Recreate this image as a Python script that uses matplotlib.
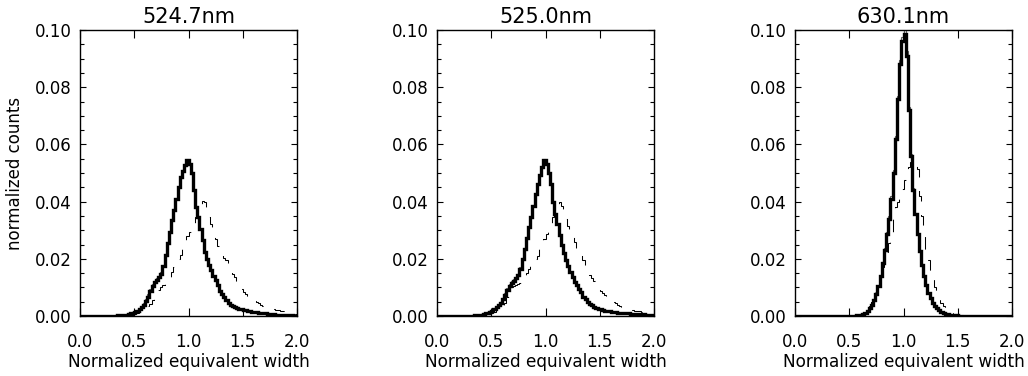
import numpy as np
import matplotlib
matplotlib.use("Agg")
import matplotlib.pyplot as plt
from matplotlib.ticker import MultipleLocator

plt.rcParams['font.family'] = ['DejaVu Sans']

# ---------------- data ----------------
titles = ["524.7nm", "525.0nm", "630.1nm"]
xticks = [0.0, 0.5, 1.0, 1.5, 2.0]
xticklabels = ["0.0", "0.5", "1.0", "1.5", "2.0"]
yticks = [0.00, 0.02, 0.04, 0.06, 0.08, 0.10]
yticklabels = ["0.00", "0.02", "0.04", "0.06", "0.08", "0.10"]
bin_start, bin_width = 0.0, 0.02   # histogram bins (10 values per row below)

# 524.7 nm
thick_5247 = [
    0, 0, 0, 0, 0, 0, 0, 0, 0, 0,
    0, 0, 0, 0, 0, 0.0001, 0.0001, 0.0002, 0.0002, 0.0003,
    0.0004, 0.0005, 0.0007, 0.0009, 0.0012, 0.0015, 0.0019, 0.0024, 0.0030, 0.0038,
    0.0052, 0.0068, 0.0086, 0.0105, 0.0118, 0.0126, 0.0135, 0.0148, 0.0175, 0.0215,
    0.0255, 0.0295, 0.0335, 0.0372, 0.0410, 0.0450, 0.0485, 0.0508, 0.0528, 0.0545,
    0.0530, 0.0500, 0.0440, 0.0380, 0.0345, 0.0305, 0.0265, 0.0225, 0.0198, 0.0180,
    0.0160, 0.0140, 0.0125, 0.0108, 0.0088, 0.0076, 0.0066, 0.0056, 0.0046, 0.0040,
    0.0035, 0.0031, 0.0028, 0.0026, 0.0024, 0.0022, 0.0020, 0.0018, 0.0017, 0.0015,
    0.0014, 0.0013, 0.0012, 0.0011, 0.0010, 0.0009, 0.0008, 0.0008, 0.0007, 0.0006,
    0.0005, 0.0005, 0.0004, 0.0003, 0.0003, 0.0002, 0.0002, 0.0002, 0.0001, 0.0001]
thin_5247 = [
    0, 0, 0, 0, 0, 0, 0, 0, 0, 0,
    0, 0, 0, 0, 0, 0.0001, 0.0001, 0.0002, 0.0002, 0.0003,
    0.0004, 0.0005, 0.0007, 0.0010, 0.0013, 0.0017, 0.0021, 0.0027, 0.0034, 0.0045,
    0.0060, 0.0078, 0.0096, 0.0112, 0.0124, 0.0132, 0.0140, 0.0155, 0.0180, 0.0218,
    0.0258, 0.0298, 0.0337, 0.0374, 0.0412, 0.0452, 0.0487, 0.0510, 0.0530, 0.0550,
    0.0528, 0.0498, 0.0438, 0.0378, 0.0343, 0.0303, 0.0263, 0.0224, 0.0197, 0.0179,
    0.0160, 0.0140, 0.0125, 0.0108, 0.0088, 0.0076, 0.0066, 0.0056, 0.0046, 0.0040,
    0.0035, 0.0031, 0.0028, 0.0026, 0.0024, 0.0022, 0.0020, 0.0018, 0.0017, 0.0015,
    0.0014, 0.0013, 0.0012, 0.0011, 0.0010, 0.0009, 0.0008, 0.0008, 0.0007, 0.0006,
    0.0005, 0.0005, 0.0004, 0.0003, 0.0003, 0.0002, 0.0002, 0.0002, 0.0001, 0.0001]
dash_5247 = [
    0, 0, 0, 0, 0, 0, 0, 0, 0, 0,
    0, 0, 0, 0, 0, 0, 0, 0, 0.0001, 0.0001,
    0.0001, 0.0002, 0.0002, 0.0003, 0.0004, 0.0006, 0.0009, 0.0013, 0.0018, 0.0024,
    0.0030, 0.0036, 0.0042, 0.0055, 0.0072, 0.0082, 0.0092, 0.0100, 0.0108, 0.0114,
    0.0120, 0.0135, 0.0155, 0.0170, 0.0185, 0.0200, 0.0215, 0.0245, 0.0262, 0.0280,
    0.0295, 0.0310, 0.0325, 0.0345, 0.0370, 0.0392, 0.0402, 0.0398, 0.0375, 0.0345,
    0.0320, 0.0295, 0.0270, 0.0245, 0.0222, 0.0212, 0.0203, 0.0195, 0.0180, 0.0165,
    0.0148, 0.0135, 0.0120, 0.0105, 0.0095, 0.0085, 0.0077, 0.0070, 0.0064, 0.0058,
    0.0053, 0.0048, 0.0044, 0.0040, 0.0036, 0.0033, 0.0030, 0.0027, 0.0025, 0.0023,
    0.0022, 0.0020, 0.0018, 0.0017, 0.0015, 0.0014, 0.0012, 0.0010, 0.0008, 0.0006]

# 525.0 nm
thick_5250 = [
    0, 0, 0, 0, 0, 0, 0, 0, 0, 0,
    0, 0, 0, 0, 0, 0.0001, 0.0001, 0.0002, 0.0003, 0.0004,
    0.0005, 0.0007, 0.0009, 0.0012, 0.0015, 0.0019, 0.0024, 0.0030, 0.0037, 0.0045,
    0.0058, 0.0072, 0.0090, 0.0106, 0.0116, 0.0124, 0.0132, 0.0142, 0.0165, 0.0200,
    0.0235, 0.0272, 0.0310, 0.0345, 0.0385, 0.0425, 0.0460, 0.0492, 0.0520, 0.0545,
    0.0532, 0.0500, 0.0460, 0.0400, 0.0355, 0.0320, 0.0282, 0.0250, 0.0222, 0.0195,
    0.0175, 0.0155, 0.0135, 0.0120, 0.0108, 0.0095, 0.0085, 0.0068, 0.0058, 0.0050,
    0.0043, 0.0037, 0.0032, 0.0029, 0.0026, 0.0023, 0.0021, 0.0019, 0.0017, 0.0016,
    0.0015, 0.0014, 0.0013, 0.0012, 0.0011, 0.0010, 0.0010, 0.0009, 0.0009, 0.0008,
    0.0008, 0.0007, 0.0007, 0.0006, 0.0006, 0.0006, 0.0005, 0.0005, 0.0004, 0.0004]
thin_5250 = [
    0, 0, 0, 0, 0, 0, 0, 0, 0, 0,
    0, 0, 0, 0, 0, 0.0001, 0.0001, 0.0002, 0.0003, 0.0004,
    0.0005, 0.0007, 0.0010, 0.0013, 0.0017, 0.0021, 0.0027, 0.0033, 0.0041, 0.0050,
    0.0064, 0.0080, 0.0097, 0.0112, 0.0121, 0.0129, 0.0137, 0.0148, 0.0170, 0.0204,
    0.0238, 0.0275, 0.0312, 0.0347, 0.0387, 0.0427, 0.0462, 0.0494, 0.0522, 0.0550,
    0.0532, 0.0500, 0.0460, 0.0400, 0.0355, 0.0320, 0.0282, 0.0250, 0.0222, 0.0195,
    0.0175, 0.0155, 0.0135, 0.0120, 0.0108, 0.0095, 0.0085, 0.0068, 0.0058, 0.0050,
    0.0043, 0.0037, 0.0032, 0.0029, 0.0026, 0.0023, 0.0021, 0.0019, 0.0017, 0.0016,
    0.0015, 0.0014, 0.0013, 0.0012, 0.0011, 0.0010, 0.0010, 0.0009, 0.0009, 0.0008,
    0.0008, 0.0007, 0.0007, 0.0006, 0.0006, 0.0006, 0.0005, 0.0005, 0.0004, 0.0004]
dash_5250 = [
    0, 0, 0, 0, 0, 0, 0, 0, 0, 0,
    0, 0, 0, 0, 0, 0, 0, 0.0001, 0.0001, 0.0002,
    0.0002, 0.0003, 0.0004, 0.0006, 0.0008, 0.0011, 0.0015, 0.0020, 0.0025, 0.0030,
    0.0034, 0.0045, 0.0065, 0.0085, 0.0100, 0.0106, 0.0110, 0.0113, 0.0117, 0.0122,
    0.0130, 0.0150, 0.0165, 0.0178, 0.0188, 0.0198, 0.0210, 0.0235, 0.0255, 0.0270,
    0.0285, 0.0300, 0.0320, 0.0345, 0.0370, 0.0392, 0.0398, 0.0385, 0.0365, 0.0340,
    0.0315, 0.0300, 0.0280, 0.0258, 0.0238, 0.0222, 0.0210, 0.0195, 0.0175, 0.0160,
    0.0145, 0.0132, 0.0122, 0.0112, 0.0100, 0.0088, 0.0080, 0.0072, 0.0065, 0.0058,
    0.0052, 0.0048, 0.0044, 0.0040, 0.0036, 0.0033, 0.0030, 0.0027, 0.0025, 0.0023,
    0.0021, 0.0019, 0.0017, 0.0016, 0.0014, 0.0013, 0.0011, 0.0009, 0.0008, 0.0006]

# 630.1 nm
thick_6301 = [
    0, 0, 0, 0, 0, 0, 0, 0, 0, 0,
    0, 0, 0, 0, 0, 0, 0, 0, 0, 0,
    0, 0, 0, 0, 0, 0, 0.0001, 0.0001, 0.0002, 0.0003,
    0.0005, 0.0008, 0.0012, 0.0018, 0.0027, 0.0038, 0.0055, 0.0078, 0.0105, 0.0140,
    0.0185, 0.0230, 0.0285, 0.0340, 0.0410, 0.0500, 0.0620, 0.0760, 0.0880, 0.0960,
    0.0985, 0.0910, 0.0720, 0.0560, 0.0440, 0.0355, 0.0285, 0.0228, 0.0180, 0.0140,
    0.0108, 0.0082, 0.0062, 0.0047, 0.0036, 0.0027, 0.0020, 0.0015, 0.0011, 0.0008,
    0.0006, 0.0004, 0.0003, 0.0002, 0.0002, 0.0001, 0.0001, 0, 0, 0,
    0, 0, 0, 0, 0, 0, 0, 0, 0, 0,
    0, 0, 0, 0, 0, 0, 0, 0, 0, 0]
thin_6301 = [
    0, 0, 0, 0, 0, 0, 0, 0, 0, 0,
    0, 0, 0, 0, 0, 0, 0, 0, 0, 0,
    0, 0, 0, 0, 0, 0, 0.0001, 0.0001, 0.0002, 0.0003,
    0.0005, 0.0008, 0.0012, 0.0018, 0.0027, 0.0038, 0.0055, 0.0078, 0.0105, 0.0140,
    0.0190, 0.0238, 0.0292, 0.0348, 0.0420, 0.0510, 0.0630, 0.0770, 0.0895, 0.0975,
    0.1005, 0.0925, 0.0730, 0.0568, 0.0446, 0.0360, 0.0288, 0.0230, 0.0182, 0.0141,
    0.0108, 0.0082, 0.0062, 0.0047, 0.0036, 0.0027, 0.0020, 0.0015, 0.0011, 0.0008,
    0.0006, 0.0004, 0.0003, 0.0002, 0.0002, 0.0001, 0.0001, 0, 0, 0,
    0, 0, 0, 0, 0, 0, 0, 0, 0, 0,
    0, 0, 0, 0, 0, 0, 0, 0, 0, 0]
dash_6301 = [
    0, 0, 0, 0, 0, 0, 0, 0, 0, 0,
    0, 0, 0, 0, 0, 0, 0, 0, 0, 0,
    0, 0, 0, 0, 0, 0, 0, 0.0001, 0.0001, 0.0002,
    0.0004, 0.0007, 0.0012, 0.0020, 0.0035, 0.0050, 0.0065, 0.0085, 0.0110, 0.0140,
    0.0170, 0.0200, 0.0225, 0.0255, 0.0290, 0.0340, 0.0380, 0.0400, 0.0420, 0.0445,
    0.0475, 0.0500, 0.0520, 0.0540, 0.0548, 0.0540, 0.0515, 0.0420, 0.0350, 0.0280,
    0.0230, 0.0195, 0.0160, 0.0135, 0.0100, 0.0080, 0.0060, 0.0045, 0.0034, 0.0025,
    0.0018, 0.0014, 0.0011, 0.0008, 0.0006, 0.0004, 0.0003, 0.0002, 0.0001, 0.0001,
    0, 0, 0, 0, 0, 0, 0, 0, 0, 0,
    0, 0, 0, 0, 0, 0, 0, 0, 0, 0]

thick_series = [thick_5247, thick_5250, thick_6301]
thin_series = [thin_5247, thin_5250, thin_6301]
dash_series = [dash_5247, dash_5250, dash_6301]

# ---------------- figure ----------------
W, H = 1028, 376
fig = plt.figure(figsize=(W / 100, H / 100), dpi=100)

lefts_px = [80, 437, 795]
ax_w_px, ax_bottom_px, ax_top_px = 217, 316, 30


def edges_for(vals):
    return bin_start + bin_width * np.arange(len(vals) + 1)


for i in range(3):
    ax = fig.add_axes([lefts_px[i] / W, (H - ax_bottom_px) / H,
                       ax_w_px / W, (ax_bottom_px - ax_top_px) / H])
    th = np.array(thin_series[i], dtype=float)
    tk = np.array(thick_series[i], dtype=float)
    ds = np.array(dash_series[i], dtype=float)
    ax.stairs(th, edges_for(th), baseline=None, color='#606060', lw=0.8,
              zorder=2)
    ax.stairs(tk, edges_for(tk), baseline=None, color='black', lw=2.4,
              zorder=3)
    ax.stairs(ds, edges_for(ds), baseline=None, color='black', lw=0.75,
              zorder=4, linestyle=(0, (12, 13)))
    ax.set_xlim(0, 2)
    ax.set_ylim(0, 0.1)
    ax.set_xticks(xticks)
    ax.set_xticklabels(xticklabels)
    ax.set_yticks(yticks)
    ax.set_yticklabels(yticklabels)
    ax.yaxis.set_minor_locator(MultipleLocator(0.005))
    ax.tick_params(axis='both', which='both', direction='in',
                   top=True, right=True, labelsize=12, width=0.8,
                   color='black')
    ax.tick_params(axis='x', which='major', length=6, pad=12)
    ax.tick_params(axis='y', which='major', length=4, pad=6)
    ax.tick_params(axis='y', which='minor', length=3)
    for sp in ax.spines.values():
        sp.set_linewidth(1.0)
    ax.set_title(titles[i], fontsize=15, pad=5)
    ax.set_xlabel("Normalized equivalent width", fontsize=12.2, labelpad=2)
    if i == 0:
        ax.set_ylabel("normalized counts", fontsize=12, labelpad=8)

fig.savefig("out.png", dpi=100)
